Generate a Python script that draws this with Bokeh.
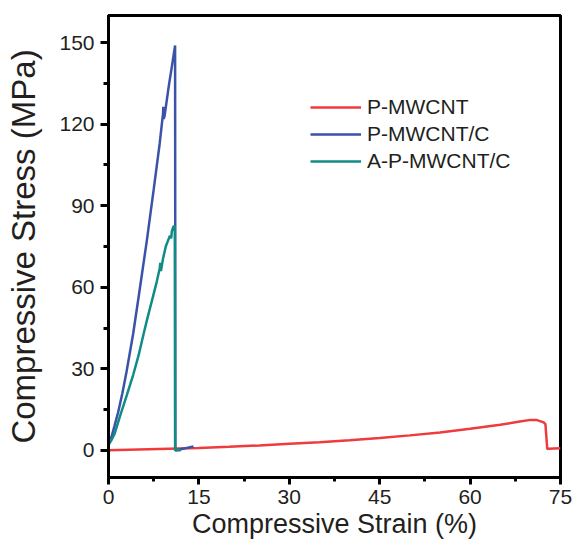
from bokeh.plotting import figure
from bokeh.models import FixedTicker, Range1d, Legend, LegendItem
from bokeh.embed import file_html
from bokeh.resources import INLINE

# P-MWCNT
red_x = [0, 5, 10, 15, 20, 25, 30, 35, 40, 45, 50, 55, 60, 65, 68, 70, 71, 72.2, 72.5, 72.8, 73, 75]
red_y = [0, 0.3, 0.6, 0.9, 1.3, 1.8, 2.4, 3.0, 3.7, 4.5, 5.5, 6.6, 7.9, 9.4, 10.5, 11.2, 11.2, 10.3, 9.6, 0.5, 0.6, 0.75]

# P-MWCNT/C
blue_x = [0, 0.5, 1, 1.6, 2.3, 3.0, 4.1, 5.1, 6.35, 7.5, 8.5, 9.05, 9.1, 9.15, 9.3, 10.0, 10.5, 11.05, 11.1, 11.3, 12, 13, 14.1]
blue_y = [2, 5, 9, 14, 21, 29, 43, 58, 77, 96, 113, 124, 126.4, 122, 123, 134, 141, 149, 0, 0, 0.4, 0.9, 1.4]

# A-P-MWCNT/C
teal_x = [0, 0.5, 1, 1.9, 3.0, 4.1, 5.0, 5.8, 6.5, 7.2, 8.0, 8.5, 8.6, 8.7, 9.0, 9.5, 10.2, 10.4, 10.5, 10.76, 11.0, 11.05, 11.5, 12.0]
teal_y = [2, 3.8, 6, 12.5, 20, 27.8, 35, 42.6, 49, 55, 62, 67, 69, 66, 70, 75, 79, 78, 80.5, 82.3, 82.5, 0, 0, 0]

x_ticks = [0, 15, 30, 45, 60, 75]
y_ticks = [0, 30, 60, 90, 120, 150]

labels = ["P-MWCNT", "P-MWCNT/C", "A-P-MWCNT/C"]
colors = ["#ef3b3b", "#3a52a8", "#108b86"]

p = figure(width=576, height=552, output_backend="svg", toolbar_location=None,
           x_range=Range1d(0, 75), y_range=Range1d(-10, 160),
           min_border_left=108, min_border_right=16, min_border_top=15, min_border_bottom=75)
p.grid.visible = False
p.outline_line_color = "black"
p.outline_line_width = 3
p.outline_line_alpha = 1

r1 = p.line(red_x, red_y, color=colors[0], line_width=2.5)
r2 = p.line(blue_x, blue_y, color=colors[1], line_width=2.5)
r3 = p.line(teal_x, teal_y, color=colors[2], line_width=2.5)

p.xaxis.ticker = FixedTicker(ticks=x_ticks, minor_ticks=[7.5, 22.5, 37.5, 52.5, 67.5])
p.yaxis.ticker = FixedTicker(ticks=y_ticks, minor_ticks=[-15, 15, 45, 75, 105, 135])

for ax in (p.xaxis[0], p.yaxis[0]):
    ax.axis_line_width = 3
    ax.major_tick_line_width = 3
    ax.minor_tick_line_width = 3
    ax.major_tick_in = 0
    ax.minor_tick_in = 0
    ax.major_label_text_font = "Liberation Sans"
    ax.major_label_text_font_size = "21px"
    ax.major_label_text_color = "#231f20"
    ax.axis_label_text_font = "Liberation Sans"
    ax.axis_label_text_font_style = "normal"
    ax.axis_label_text_color = "#231f20"

p.xaxis.major_tick_out = 7
p.xaxis.minor_tick_out = 4
p.yaxis.major_tick_out = 8
p.yaxis.minor_tick_out = 5
p.xaxis.major_label_standoff = 5
p.yaxis.major_label_standoff = 6
p.xaxis.axis_label = "Compressive Strain (%)"
p.yaxis.axis_label = "Compressive Stress (MPa)"
p.xaxis.axis_label_text_font_size = "27px"
p.yaxis.axis_label_text_font_size = "33px"
p.xaxis.axis_label_standoff = 2
p.yaxis.axis_label_standoff = 14

legend = Legend(items=[LegendItem(label=l, renderers=[r]) for l, r in zip(labels, [r1, r2, r3])],
                location=(202, 304), padding=0, margin=0, spacing=3,
                glyph_width=51, glyph_height=20, label_standoff=6,
                label_text_font="Liberation Sans", label_text_font_size="21px",
                label_text_color="#231f20", border_line_color=None,
                background_fill_alpha=0)
p.add_layout(legend)

open("out.html", "w").write(file_html(p, INLINE))
